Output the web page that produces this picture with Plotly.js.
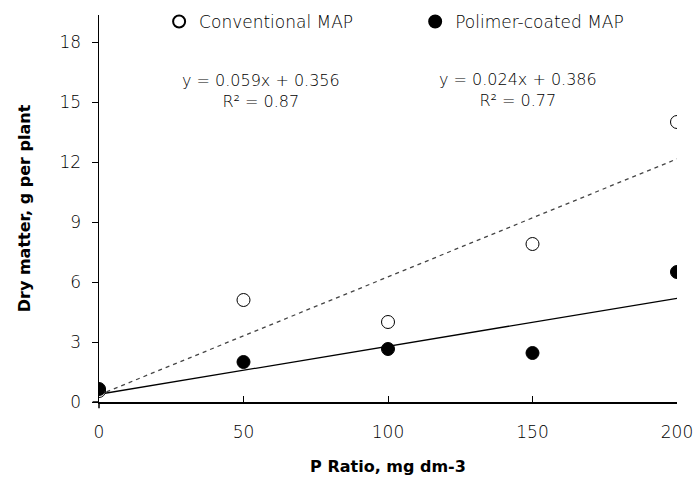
<!DOCTYPE html>
<html><head><meta charset="utf-8">
<script src="https://cdn.plot.ly/plotly-3.0.1.min.js"></script>
<style>html,body{margin:0;padding:0;background:#fff}#chart{width:693px;height:483px}</style>
</head><body><div id="chart"></div>
<script>
const doses = [0, 50, 100, 150, 200];
const conventional = [0.55, 5.1, 4.0, 7.9, 14.0];
const polimer = [0.65, 2.0, 2.65, 2.45, 6.5];
const convFit = {slope: 0.059, intercept: 0.356, r2: 0.87};
const polFit = {slope: 0.024, intercept: 0.386, r2: 0.77};
const xTicks = [0, 50, 100, 150, 200];
const yTicks = [0, 3, 6, 9, 12, 15, 18];

const fitX = [doses[0], doses[doses.length - 1]];
const fitY = f => fitX.map(x => f.slope * x + f.intercept);
const font = "'DejaVu Sans', sans-serif";
const thin = 200;

const traces = [
  {x: fitX, y: fitY(convFit), mode: 'lines', showlegend: false, hoverinfo: 'skip',
   line: {color: '#444', width: 1.3, dash: '4px,4px'}},
  {x: fitX, y: fitY(polFit), mode: 'lines', showlegend: false, hoverinfo: 'skip',
   line: {color: '#000', width: 1.3}},
  {x: doses, y: conventional, mode: 'markers', name: 'Conventional MAP', legend: 'legend',
   marker: {symbol: 'circle', size: 13, color: '#fff', line: {color: '#000', width: 1}}},
  {x: doses, y: polimer, mode: 'markers', name: 'Polimer-coated MAP', legend: 'legend2',
   marker: {symbol: 'circle', size: 13, color: '#000', line: {color: '#000', width: 1}}}
];

const legFont = {size: 17, family: font, weight: thin, color: '#000'};
const legCommon = {y: 0.982, xanchor: 'left', yanchor: 'middle', itemsizing: 'constant',
  font: legFont, itemwidth: 30, bgcolor: 'rgba(0,0,0,0)'};
const layout = {
  width: 693, height: 483,
  margin: {l: 99, r: 16, t: 15, b: 81, autoexpand: false},
  paper_bgcolor: '#fff', plot_bgcolor: '#fff',
  font: {family: font, color: '#000'},
  showlegend: true,
  legend: Object.assign({x: 0.104}, legCommon),
  legend2: Object.assign({x: 0.547}, legCommon),
  xaxis: {range: [0, 200], tickvals: xTicks, ticks: 'inside', ticklen: 6, tickcolor: '#000',
    showline: true, linecolor: '#000', linewidth: 1.5, showgrid: false, zeroline: false,
    ticklabeloverflow: 'allow',
    tickfont: {size: 17, family: font, weight: thin, color: '#000'}, ticklabelstandoff: 14,
    title: {text: 'P Ratio, mg dm-3', font: {size: 16, family: font, weight: 'bold', color: '#000'}, standoff: 20}},
  yaxis: {range: [0, 19.35], tickvals: yTicks, ticks: 'outside', ticklen: 6, tickcolor: '#000',
    showline: true, linecolor: '#000', linewidth: 1.5, showgrid: false, zeroline: false,
    tickfont: {size: 17, family: font, weight: thin, color: '#000'}, ticklabelstandoff: 7,
    title: {text: 'Dry matter, g per plant', font: {size: 16, family: font, weight: 'bold', color: '#000'}, standoff: 25}},
  shapes: [
    {type: 'line', xref: 'paper', yref: 'paper', x0: -0.011, x1: 0, y0: 0, y1: 0, line: {color: '#000', width: 1.5}},
    {type: 'line', xref: 'paper', yref: 'paper', x0: 0, x1: 0, y0: -0.016, y1: 0, line: {color: '#000', width: 1.5}}
  ],
  annotations: [
    {xref: 'paper', yref: 'paper', x: 0.28, y: 0.804, xanchor: 'center', yanchor: 'middle', showarrow: false,
     text: 'y = ' + convFit.slope + 'x + ' + convFit.intercept + '<br>R² = ' + convFit.r2,
     font: {size: 16, family: font, weight: thin, color: '#000'}},
    {xref: 'paper', yref: 'paper', x: 0.725, y: 0.806, xanchor: 'center', yanchor: 'middle', showarrow: false,
     text: 'y = ' + polFit.slope + 'x + ' + polFit.intercept + '<br>R² = ' + polFit.r2,
     font: {size: 16, family: font, weight: thin, color: '#000'}}
  ]
};
Plotly.newPlot('chart', traces, layout, {displayModeBar: false, staticPlot: true});
</script></body></html>
